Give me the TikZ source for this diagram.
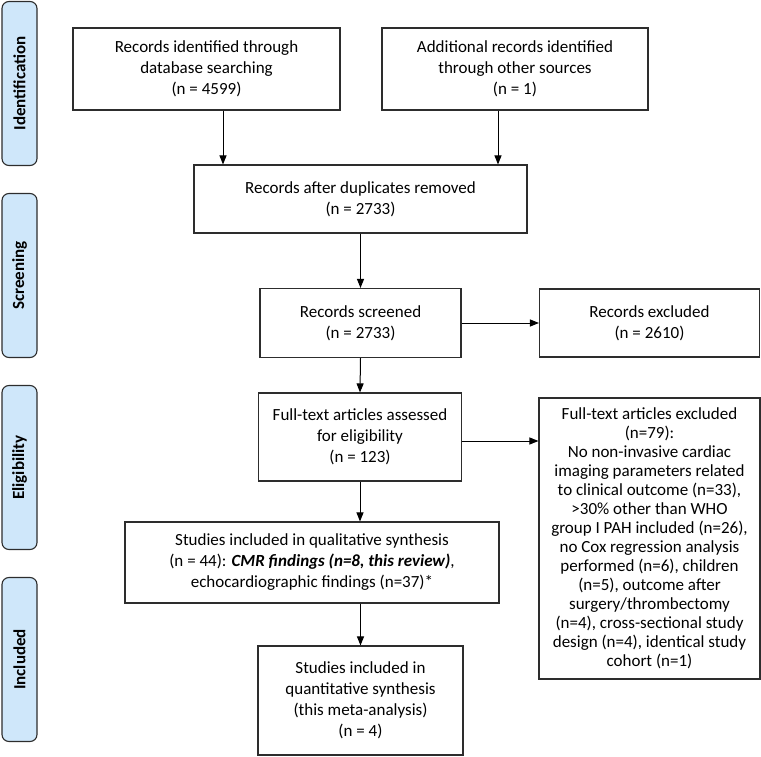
\documentclass[tikz,border=0pt]{standalone}
\usepackage{fontspec}
\setmainfont{Carlito}
\usetikzlibrary{arrows.meta,positioning}
\definecolor{phaseblue}{RGB}{207,231,250}
\definecolor{edge}{RGB}{45,45,45}
\tikzset{
  txt/.style={font=\fontsize{17}{21}\selectfont},
  box/.style={txt,draw=edge,line width=1.1pt,align=center,inner sep=2pt},
  phase/.style={txt,font=\fontsize{17}{21}\selectfont\bfseries,draw=edge,line width=1.1pt,
    fill=phaseblue,rounded corners=7pt,rotate=90,minimum width=164pt,minimum height=35pt},
  arr/.style={draw=black,line width=1pt,-{Triangle[length=9pt,width=7pt]}}
}
\begin{document}
\begin{tikzpicture}[x=1pt,y=-1pt]
\useasboundingbox (0,0) rectangle (761,757);
\node[phase] (ident) at (19.5,83.5) {Identification};
\node[phase] (screen) at (19.5,275.5) {Screening};
\node[phase] (elig) at (19.5,467.5) {Eligibility};
\node[phase] (incl) at (19.5,659.5) {Included};

\node[box,minimum width=267pt,minimum height=82pt] (db) at (206.5,69) {Records identified through\\database searching\\(n = 4599)};
\node[box,minimum width=266pt,minimum height=82pt] (other) at (515,69) {Additional records identified\\through other sources\\(n = 1)};
\node[box,minimum width=333pt,minimum height=68pt] (dup) at (360.5,199) {Records after duplicates removed\\(n = 2733)};
\node[box,minimum width=201pt,minimum height=69pt] (scr) at (360.5,323) {Records screened\\(n = 2733)};
\node[box,minimum width=220pt,minimum height=68pt] (excl) at (649.5,323) {Records excluded\\(n = 2610)};
\node[box,minimum width=203pt,minimum height=88pt] (full) at (360,437) {Full-text articles assessed\\for eligibility\\(n = 123)};
\node[box,font=\fontsize{17}{19}\selectfont,minimum width=221pt,minimum height=281pt] (ftexcl) at (649.5,538.5) {Full-text articles excluded\\(n=79):\\No non-invasive cardiac\\imaging parameters related\\to clinical outcome (n=33),\\>30\% other than WHO\\group I PAH included (n=26),\\no Cox regression analysis\\performed (n=6), children\\(n=5), outcome after\\surgery/thrombectomy\\(n=4), cross-sectional study\\design (n=4), identical study\\cohort (n=1)};
\node[box,minimum width=374pt,minimum height=81pt] (qual) at (312,562.5) {Studies included in qualitative synthesis\\(n = 44): \textbf{\textit{CMR findings (n=8, this review)}},\\echocardiographic findings (n=37)*};
\node[box,minimum width=205pt,minimum height=109pt] (quant) at (360.5,700.5) {Studies included in\\quantitative synthesis\\(this meta-analysis)\\(n = 4)};

\draw[arr] ([xshift=16.5pt]db.south) -- ([xshift=16.5pt]db.south |- dup.north);
\draw[arr] ([xshift=-17pt]other.south) -- ([xshift=-17pt]other.south |- dup.north);
\draw[arr] (dup.south) -- (scr.north);
\draw[arr] (scr.east) -- (excl.west);
\draw[arr] (scr.south) -- (full.north);
\draw[arr] ([yshift=-4pt]full.east) -- ([yshift=-4pt]full.east -| ftexcl.west);
\draw[arr] (full.south) -- (full.south |- qual.north);
\draw[arr] (quant.north |- qual.south) -- (quant.north);
\end{tikzpicture}
\end{document}
